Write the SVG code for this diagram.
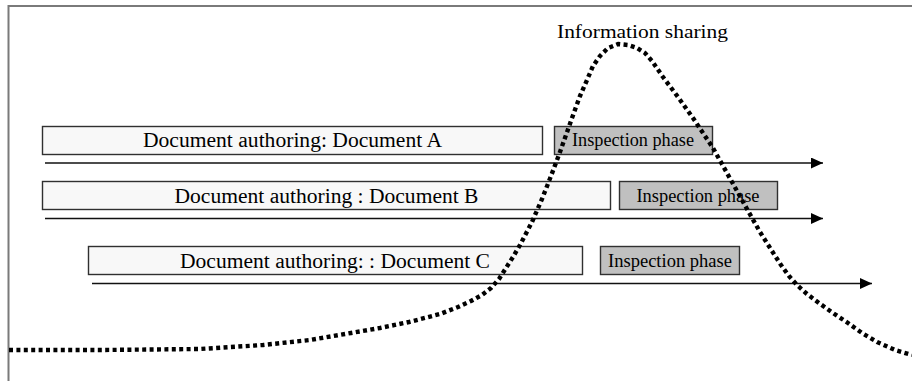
<svg xmlns="http://www.w3.org/2000/svg" width="912" height="381" viewBox="0 0 912 381">
  <style>
    .frame { stroke: #7a7a7a; stroke-width: 2; fill: none; }
    .doc { fill: #f8f8f8; stroke: #303030; stroke-width: 1.4; }
    .insp { fill: #c0c0c0; stroke: #303030; stroke-width: 1.4; }
    .lbl { font-family: "Liberation Serif", "Times New Roman", serif; fill: #000; text-anchor: middle; }
    .doc-t { font-size: 20.5px; }
    .insp-t { font-size: 18px; }
    .axis { stroke: #111; stroke-width: 1.3; fill: none; marker-end: url(#head); }
    .share { fill: none; stroke: #000; stroke-width: 4.4; stroke-dasharray: 4 3.4; stroke-linejoin: round; }
  </style>
  <defs>
    <marker id="head" markerUnits="userSpaceOnUse" markerWidth="12" markerHeight="11" refX="12" refY="5.5" orient="auto">
      <path d="M0,0 L12,5.5 L0,11 z" fill="#000"/>
    </marker>
  </defs>

  <rect width="912" height="381" fill="#fff"/>

  <!-- frame: top and left edges only -->
  <path class="frame" d="M8.5,381 L8.5,6 L912,6"/>

  <g id="doc-a">
    <rect class="doc" x="42.5" y="126.5" width="500" height="28"/>
    <text class="lbl doc-t" x="292.5" y="147" textLength="299" lengthAdjust="spacingAndGlyphs">Document authoring: Document A</text>
  </g>
  <g id="insp-a">
    <rect class="insp" x="554.5" y="126.5" width="158" height="28"/>
    <text class="lbl insp-t" x="633" y="146" textLength="122" lengthAdjust="spacingAndGlyphs">Inspection phase</text>
  </g>

  <g id="doc-b">
    <rect class="doc" x="42.5" y="181.5" width="568" height="28"/>
    <text class="lbl doc-t" x="326.5" y="202.5" textLength="304" lengthAdjust="spacingAndGlyphs">Document authoring : Document B</text>
  </g>
  <g id="insp-b">
    <rect class="insp" x="619.5" y="181.5" width="158" height="28"/>
    <text class="lbl insp-t" x="698" y="202" textLength="123" lengthAdjust="spacingAndGlyphs">Inspection phase</text>
  </g>

  <g id="doc-c">
    <rect class="doc" x="88.5" y="246.5" width="494" height="28"/>
    <text class="lbl doc-t" x="335" y="268" textLength="310" lengthAdjust="spacingAndGlyphs">Document authoring: : Document C</text>
  </g>
  <g id="insp-c">
    <rect class="insp" x="600.5" y="246.5" width="139" height="28"/>
    <text class="lbl insp-t" x="670" y="266.5" textLength="124" lengthAdjust="spacingAndGlyphs">Inspection phase</text>
  </g>

  <g id="connectors">
    <line class="axis" x1="45" y1="163" x2="823" y2="163"/>
    <line class="axis" x1="45" y1="218.5" x2="823" y2="218.5"/>
    <line class="axis" x1="92" y1="283.5" x2="872" y2="283.5"/>
  </g>

  <g id="sharing">
    <path class="share" d="M9,350 L100,350 L200,349 L263,345 L310,340 L351,333 L380,328 L409,322 L440,314 L458,307 L471,301 L482,295 L491,288 L499,279 L506,268 L513,257 L520,245 L532,222 L542,199 L551,176 L560,152 L566,135 L572,118 L580,96 L587,80 L593,66 L600,56 L608,48 L618,44 L628,45 L637,48 L645,53 L652,61 L663,77 L678,97 L693,118 L713,148 L732,182 L747,209 L760,232 L772,251 L781,265 L789,276 L797,285 L807,294 L819,303 L833,313 L848,323 L862,333 L877,342 L895,350 L912,355"/>
    <text class="lbl" x="642.5" y="38" font-size="19" textLength="171" lengthAdjust="spacingAndGlyphs">Information sharing</text>
  </g>
</svg>
